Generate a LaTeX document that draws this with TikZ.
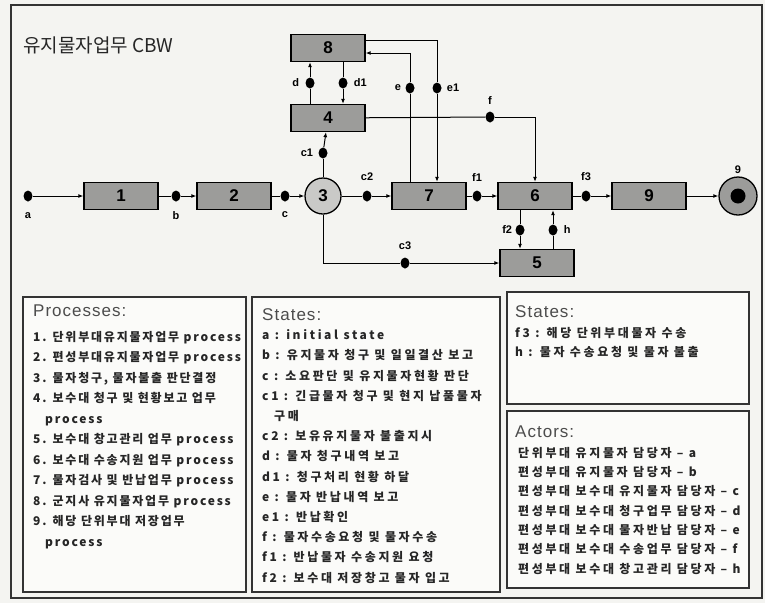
\documentclass[tikz,border=0pt]{standalone}
\usepackage{fontspec}
\setmainfont{Liberation Sans}
\newfontfamily\krfont[LetterSpace=22]{Noto Sans CJK KR}
\newfontfamily\krproc[LetterSpace=15]{Noto Sans CJK KR}
\newfontfamily\krhead{Noto Sans CJK KR}
\newfontfamily\headfont[LetterSpace=6]{Liberation Sans}
\usetikzlibrary{arrows.meta, shapes.geometric}
\definecolor{paperBg}{HTML}{F4F4F1}
\definecolor{boxGray}{HTML}{9C9C9A}
\definecolor{nodeGray}{HTML}{C9C9C7}
\definecolor{frameGray}{HTML}{333333}

\tikzset{
  >={Latex[length=5pt,width=4pt]},
  procbox/.style={draw=black, line width=1.3pt, fill=boxGray, minimum width=74pt,
    minimum height=27pt, inner sep=0pt, font=\bfseries\fontsize{17}{17}\selectfont},
  judge/.style={circle, draw=black, line width=1.3pt, fill=nodeGray, minimum size=36pt,
    inner sep=0pt, font=\bfseries\fontsize{17}{17}\selectfont},
  finish/.style={circle, draw=black, line width=1.3pt, fill=boxGray, minimum size=38pt, inner sep=0pt},
  dot/.style={ellipse, fill=black, minimum width=9pt, minimum height=11pt, inner sep=0pt},
  statelabel/.style={font=\bfseries\fontsize{11}{11}\selectfont, inner sep=1pt},
  link/.style={line width=1pt},
  flow/.style={line width=1pt, ->},
  panel/.style={draw=frameGray, line width=1.6pt, fill=white!60!paperBg},
  paneltitle/.style={anchor=base west, inner sep=0pt, text=black!70, font=\headfont\fontsize{17}{17}\selectfont},
  % base of a multi-line node = baseline of its last line
  paneltext/.style={anchor=base west, inner sep=0pt, align=left, text=black!85,
    font=\krfont\bfseries\fontsize{12}{20.2}\selectfont}
}

\begin{document}
\begin{tikzpicture}[x=1pt, y=-1pt]
  \useasboundingbox (0,0) rectangle (765,603);
  \fill[paperBg] (0,0) rectangle (765,603);
  \draw[frameGray, line width=1.4pt] (11,5) rectangle (762,598);

  \node[anchor=west, inner sep=0pt, text=black!85, font=\krhead\fontsize{19}{19}\selectfont] (title) at (23,45) {유지물자업무 CBW};

  % processes
  \node[procbox] (box1) at (121,196) {1};
  \node[procbox] (box2) at (234,196) {2};
  \node[judge] (p3) at (323,196) {3};
  \node[procbox] (box8) at (328,48) {8};
  \node[procbox] (box4) at (328,118) {4};
  \node[procbox] (box7) at (429,196) {7};
  \node[procbox] (box6) at (535,196) {6};
  \node[procbox] (box5) at (537,263) {5};
  \node[procbox] (box9) at (649,196) {9};
  \node[finish, label={[statelabel, label distance=2pt]above:9}] (end) at (738,196) {};
  \fill (end.center) circle (7.5pt);

  % states
  \node[dot, label={[statelabel, label distance=10pt]below:a}] (sa) at (28,196) {};
  \node[dot, label={[statelabel, label distance=9pt]below:b}] (sb) at (176,196) {};
  \node[dot, label={[statelabel, label distance=9pt]below:c}] (sc) at (285,196) {};
  \node[dot, label={[statelabel, label distance=4pt]left:c1}] (sc1) at (323,153) {};
  \node[dot, label={[statelabel, label distance=8pt]above:c2}] (sc2) at (367,196) {};
  \node[dot, label={[statelabel, label distance=5pt]left:d}] (sd) at (310,83) {};
  \node[dot, label={[statelabel, label distance=5pt]right:d1}] (sd1) at (343,83) {};
  \node[dot, label={[statelabel, label distance=3pt]left:e}] (se) at (410,88) {};
  \node[dot, label={[statelabel, label distance=4pt]right:e1}] (se1) at (437,88) {};
  \node[dot, label={[statelabel, label distance=6pt]above:f}] (sf) at (490,117) {};
  \node[dot, label={[statelabel, label distance=8pt]above:f1}] (sf1) at (477,196) {};
  \node[dot, label={[statelabel, label distance=8pt]above:f3}] (sf3) at (586,196) {};
  \node[dot, label={[statelabel, label distance=2pt]left:f2}] (sf2) at (520,230) {};
  \node[dot, label={[statelabel, label distance=5pt]right:h}] (sh) at (553,230) {};
  \node[dot, label={[statelabel, label distance=6pt]above:c3}] (sc3) at (405,263) {};

  % main line
  \draw[flow] (sa) -- (box1);
  \draw[link] (box1) -- (sb);
  \draw[flow] (sb) -- (box2);
  \draw[link] (box2) -- (sc);
  \draw[flow] (sc) -- (p3);
  \draw[link] (p3) -- (sc2);
  \draw[flow] (sc2) -- (box7);
  \draw[link] (box7) -- (sf1);
  \draw[flow] (sf1) -- (box6);
  \draw[link] (box6) -- (sf3);
  \draw[flow] (sf3) -- (box9);
  \draw[flow] (box9) -- (end);

  % upper loops
  \draw[link] (p3) -- (sc1);
  \draw[flow] (sc1) -- (box4);
  \draw[link] (sd |- box4.north) -- (sd);
  \draw[flow] (sd) -- (sd |- box8.south);
  \draw[link] (sd1 |- box8.south) -- (sd1);
  \draw[flow] (sd1) -- (sd1 |- box4.north);
  \draw[link] (se |- box7.north) -- (se);
  \draw[flow] (se) |- ([yshift=-5pt]box8.east);
  \draw[link] ([yshift=8pt]box8.east) -| (se1);
  \draw[flow] (se1) -- (se1 |- box7.north);
  \draw[link] (box4) -- (sf);
  \draw[flow] (sf) -| (box6);

  % lower loops
  \draw[link] (sf2 |- box6.south) -- (sf2);
  \draw[flow] (sf2) -- (sf2 |- box5.north);
  \draw[link] (sh |- box5.north) -- (sh);
  \draw[flow] (sh) -- (sh |- box6.south);
  \draw[link] (p3) |- (sc3);
  \draw[flow] (sc3) -- (box5);

  % legend panels
  \draw[panel] (23,297) rectangle (246,592);
  \draw[panel] (252,297) rectangle (500,592);
  \draw[panel] (507,292) rectangle (749,404);
  \draw[panel] (507,411) rectangle (749,588);

  \node[paneltitle] (proctitle) at (33,316) {Processes:};
  \node[paneltext, font=\krproc\bfseries\fontsize{12}{20.5}\selectfont] (proctext) at (33,546) {1. 단위부대유지물자업무 process\\
    2. 편성부대유지물자업무 process\\
    3. 물자청구, 물자불출 판단결정\\
    4. 보수대 청구 및 현황보고 업무\\
    \hspace*{12pt}process\\
    5. 보수대 창고관리 업무 process\\
    6. 보수대 수송지원 업무 process\\
    7. 물자검사 및 반납업무 process\\
    8. 군지사 유지물자업무 process\\
    9. 해당 단위부대 저장업무\\
    \hspace*{12pt}process};

  \node[paneltitle] (statetitle) at (262,320) {States:};
  \node[paneltext] (statetext) at (262,582) {a : initial state\\
    b : 유지물자 청구 및 일일결산 보고\\
    c : 소요판단 및 유지물자현황 판단\\
    c1 : 긴급물자 청구 및 현지 납품물자\\
    \hspace*{12pt}구매\\
    c2 : 보유유지물자 불출지시\\
    d : 물자 청구내역 보고\\
    d1 : 청구처리 현황 하달\\
    e : 물자 반납내역 보고\\
    e1 : 반납확인\\
    f : 물자수송요청 및 물자수송\\
    f1 : 반납물자 수송지원 요청\\
    f2 : 보수대 저장창고 물자 입고};

  \node[paneltitle] (movetitle) at (515,317) {States:};
  \node[paneltext, font=\krfont\bfseries\fontsize{12}{19.5}\selectfont] (movetext) at (515,356.5) {f3 : 해당 단위부대물자 수송\\
    h : 물자 수송요청 및 물자 불출};

  \node[paneltitle] (actortitle) at (515,437) {Actors:};
  \node[paneltext, font=\krfont\bfseries\fontsize{12}{19.3}\selectfont] (actortext) at (518,573) {단위부대 유지물자 담당자 – a\\
    편성부대 유지물자 담당자 – b\\
    편성부대 보수대 유지물자 담당자 – c\\
    편성부대 보수대 청구업무 담당자 – d\\
    편성부대 보수대 물자반납 담당자 – e\\
    편성부대 보수대 수송업무 담당자 – f\\
    편성부대 보수대 창고관리 담당자 – h};
\end{tikzpicture}
\end{document}
